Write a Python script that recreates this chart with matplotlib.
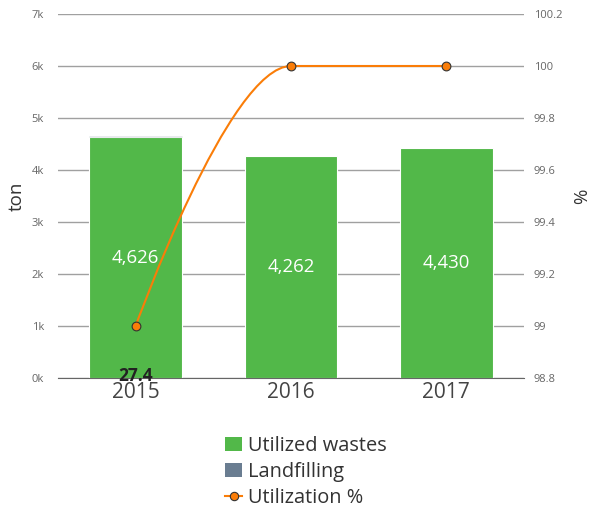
import numpy as np
import matplotlib.pyplot as plt
from matplotlib.path import Path
from matplotlib.patches import PathPatch, Patch
from matplotlib.lines import Line2D

plt.rcParams['font.family'] = ['Open Sans', 'DejaVu Sans']

years = ['2015', '2016', '2017']
utilized = [4626, 4262, 4430]
landfill = [27.4, 0, 0]
util_pct = [99, 100, 100]

GREEN = '#52b849'
GREY = '#6a7d91'
ORANGE = '#fa7d08'

fig = plt.figure(figsize=(5.9, 5.11), dpi=100)
ax = fig.add_axes([58/590, 1-378/511, 466/590, 364/511])
ax2 = ax.twinx()

x = np.arange(len(years))
w = 0.595
ax.bar(x, utilized, w, color=GREEN, edgecolor='white', linewidth=0.8, zorder=3)
ax.bar(x, landfill, w, bottom=utilized, color=GREY, edgecolor='white', linewidth=0.5, zorder=3)

for i, v in enumerate(utilized):
    ax.text(x[i], v/2, f'{v:,}', ha='center', va='center', color='white', fontsize=13.4, zorder=5)
ax.text(x[0], 40, f'{landfill[0]}', ha='center', va='center', color='#222222',
        fontsize=12.5, fontweight='bold', zorder=6)

ax.set_xlim(-0.5, 2.5)
ax.set_ylim(0, 7000)
ax.set_yticks(range(0, 7001, 1000))
ax.set_yticklabels([f'{k}k' for k in range(8)])
ax.set_xticks(x)
ax.set_xticklabels(years)
ax.tick_params(axis='x', length=0, labelsize=15, labelcolor='#444444', pad=3)
ax.tick_params(axis='y', length=0, labelsize=8, labelcolor='#666666', pad=10)
ax.grid(axis='y', color='#a0a0a0', linewidth=1, zorder=0)
ax.set_axisbelow(True)
for s in ['top', 'right', 'left']:
    ax.spines[s].set_visible(False)
ax.spines['bottom'].set_color('#666666')
ax.spines['bottom'].set_zorder(4)
ax.set_ylabel('ton', fontsize=13.5, color='#333333', labelpad=4)

# spline for the percentage line (same control points as a highcharts spline)
ax2.set_ylim(98.8, 100.2)
ax2.set_yticks(np.round(np.arange(98.8, 100.21, 0.2), 1))
ax2.set_yticklabels(['98.8', '99', '99.2', '99.4', '99.6', '99.8', '100', '100.2'])
verts = [(x[0], util_pct[0]), (x[0], util_pct[0]),
         (0.6*x[1] + 0.4*x[0], util_pct[1]), (x[1], util_pct[1]),
         (0.6*x[1] + 0.4*x[2], util_pct[1]), (x[2], util_pct[2]), (x[2], util_pct[2])]
codes = [Path.MOVETO] + [Path.CURVE4]*6
ax2.add_patch(PathPatch(Path(verts, codes), facecolor='none', edgecolor=ORANGE, lw=1.5, zorder=4))
ax2.plot(x, util_pct, ls='none', marker='o', ms=6.3, mfc=ORANGE, mec='#333333', mew=0.8, zorder=5)
ax2.tick_params(axis='y', length=0, labelsize=8, labelcolor='#666666', pad=7)
for s in ax2.spines.values():
    s.set_visible(False)
ax2.set_ylabel('%', fontsize=13.5, color='#333333', labelpad=8)

handles = [Patch(facecolor=GREEN, edgecolor='none'),
           Patch(facecolor=GREY, edgecolor='none'),
           Line2D([], [], color=ORANGE, lw=1.5, marker='o', ms=6, mfc=ORANGE, mec='#333333', mew=0.8)]
fig.legend(handles, ['Utilized wastes', 'Landfilling', 'Utilization %'],
           loc='upper left', bbox_to_anchor=(225/590, 1-436/511), frameon=False,
           fontsize=14.4, labelcolor='#333333', handlelength=0.85, handleheight=0.75,
           handletextpad=0.3, labelspacing=0.3, borderpad=0, borderaxespad=0)

fig.savefig('out.png', dpi=100)
